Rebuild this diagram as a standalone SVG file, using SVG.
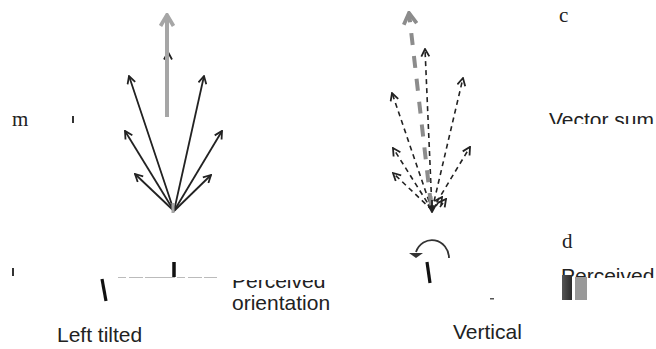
<svg xmlns="http://www.w3.org/2000/svg" width="656" height="349" viewBox="0 0 656 349">
<style>
.lbl{font-family:"Liberation Sans",Arial,sans-serif;font-size:21px;fill:#222}
.ser{font-family:"Liberation Serif","Times New Roman",serif;font-size:21px;fill:#222}
.blk{stroke:#222;stroke-width:1.8;fill:none}
.dsh{stroke:#222;stroke-width:1.6;fill:none;stroke-dasharray:5 4}
.gry{stroke:#a6a6a6;stroke-width:4;fill:none}
.gdsh{stroke:#8c8c8c;stroke-width:4;fill:none;stroke-dasharray:12 11}
.bar{stroke:#111;stroke-width:3.2;stroke-linecap:butt}
</style>
<defs>
<marker id="ah" viewBox="0 0 10 10" refX="9" refY="5" markerWidth="10" markerHeight="10" markerUnits="userSpaceOnUse" orient="auto">
<path d="M1.5,1 L9,5 L1.5,9" fill="none" stroke="#222" stroke-width="1.8"/>
</marker>
<marker id="ahg" viewBox="0 0 16 16" refX="14" refY="8" markerWidth="16" markerHeight="16" markerUnits="userSpaceOnUse" orient="auto">
<path d="M3,1.5 L14,8 L3,14.5" fill="none" stroke="#a6a6a6" stroke-width="3.8"/>
</marker>
<marker id="ahg2" viewBox="0 0 16 16" refX="14" refY="8" markerWidth="16" markerHeight="16" markerUnits="userSpaceOnUse" orient="auto">
<path d="M3,1.5 L14,8 L3,14.5" fill="none" stroke="#8c8c8c" stroke-width="3.8"/>
</marker>
<clipPath id="cm"><rect x="0" y="112" width="60" height="14"/></clipPath>
<clipPath id="cv"><rect x="540" y="108" width="116" height="16"/></clipPath>
<clipPath id="cp1"><rect x="230" y="280" width="110" height="12"/></clipPath>
<clipPath id="cp2"><rect x="540" y="260" width="116" height="18"/></clipPath>
<linearGradient id="gd" x1="0" x2="1" y1="0" y2="0"><stop offset="0" stop-color="#555"/><stop offset="1" stop-color="#2a2a2a"/></linearGradient>
</defs>

<g id="connectors">
<line class="blk" x1="174" y1="211" x2="129" y2="76" marker-end="url(#ah)"/>
<line class="blk" x1="174" y1="211" x2="204" y2="76" marker-end="url(#ah)"/>
<line class="blk" x1="174" y1="211" x2="125" y2="131" marker-end="url(#ah)"/>
<line class="blk" x1="174" y1="211" x2="222" y2="131" marker-end="url(#ah)"/>
<line class="blk" x1="174" y1="211" x2="135" y2="174" marker-end="url(#ah)"/>
<line class="blk" x1="174" y1="211" x2="211" y2="175" marker-end="url(#ah)"/>
<line class="blk" x1="168" y1="60" x2="168" y2="52" marker-end="url(#ah)"/>
<line class="gry" x1="167" y1="117" x2="167" y2="15" marker-end="url(#ahg)"/>
<line stroke="#a6a6a6" stroke-width="3" x1="173" y1="203" x2="173" y2="213"/>
<line class="dsh" x1="432" y1="210" x2="425" y2="49" marker-end="url(#ah)"/>
<line class="dsh" x1="432" y1="210" x2="463" y2="78" marker-end="url(#ah)"/>
<line class="dsh" x1="432" y1="210" x2="392" y2="93" marker-end="url(#ah)"/>
<line class="dsh" x1="432" y1="210" x2="470" y2="147" marker-end="url(#ah)"/>
<line class="dsh" x1="432" y1="210" x2="393" y2="148" marker-end="url(#ah)"/>
<line class="dsh" x1="432" y1="210" x2="393" y2="173" marker-end="url(#ah)"/>
<line class="dsh" x1="436" y1="206" x2="442" y2="197" marker-end="url(#ah)"/>
<line class="dsh" x1="440" y1="207" x2="446" y2="199" marker-end="url(#ah)"/>
<line class="gdsh" x1="431" y1="205" x2="409" y2="13" marker-end="url(#ahg2)"/>
<line class="blk" x1="432" y1="200" x2="432" y2="212" marker-end="url(#ah)"/>
<path d="M449,258 A17,18 0 0 0 416,252" fill="none" stroke="#333" stroke-width="1.8"/>
<path d="M409,253 L423,253 L416,258 Z" fill="#333"/>
</g>

<g id="left-panel">
<text class="ser" x="12" y="126" clip-path="url(#cm)">m</text>
<rect x="72" y="116" width="2" height="7" fill="#333"/>
<line class="bar" x1="102" y1="279" x2="106" y2="301"/>
<line x1="174" y1="262" x2="174" y2="277" stroke="#111" stroke-width="3.5"/>
<rect x="12" y="268" width="2" height="8" fill="#333"/>
<line x1="118" y1="277.5" x2="217" y2="277.5" stroke="#bbb" stroke-width="1" stroke-dasharray="8 3 14 2 30 2"/>
<text class="lbl" x="232" y="288" clip-path="url(#cp1)">Perceived</text>
<text class="lbl" x="232" y="310">orientation</text>
<text class="lbl" x="57" y="342">Left tilted</text>
</g>

<g id="right-panel">
<line class="bar" x1="427" y1="262" x2="430" y2="283"/>
<rect x="490" y="298" width="4" height="1.5" fill="#555"/>
<text class="lbl" x="453" y="339">Vertical</text>
</g>

<g id="panel-c">
<text class="ser" x="559" y="22">c</text>
<text class="lbl" x="549" y="127" clip-path="url(#cv)">Vector sum</text>
</g>

<g id="panel-d">
<text class="ser" x="562" y="248">d</text>
<text class="lbl" x="561" y="283" clip-path="url(#cp2)">Perceived</text>
<rect x="562" y="275" width="10" height="25" fill="url(#gd)"/>
<rect x="575" y="277" width="12" height="23" fill="#999"/>
</g>
</svg>
